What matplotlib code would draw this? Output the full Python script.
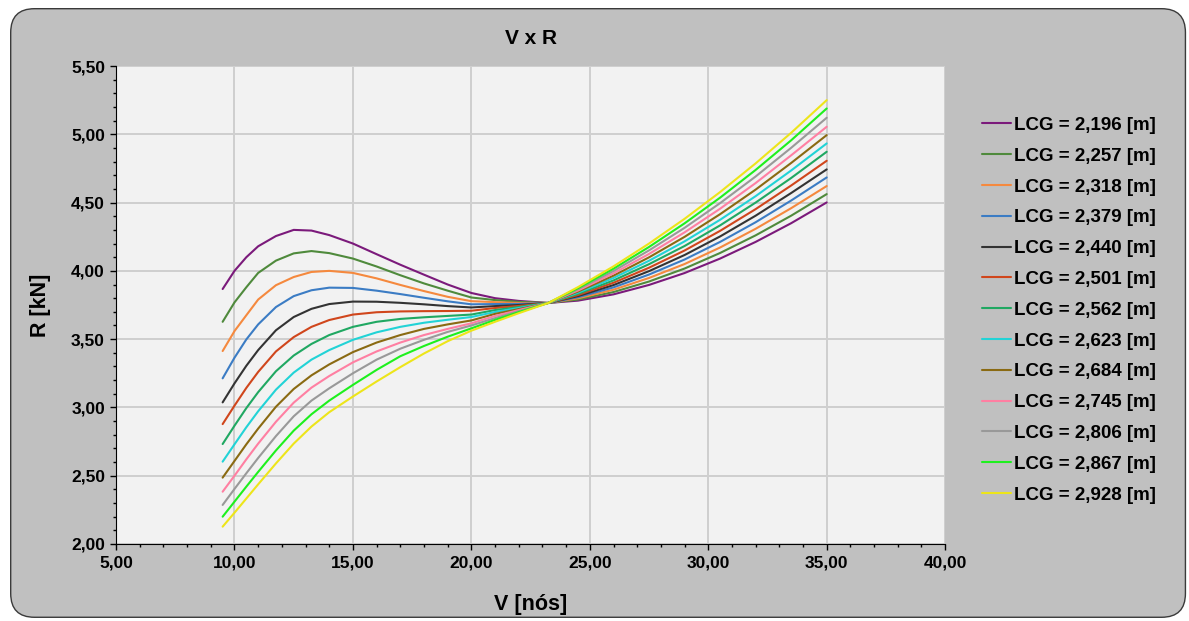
import matplotlib
matplotlib.use('Agg')
import matplotlib.pyplot as plt
from matplotlib.patches import FancyBboxPatch
from matplotlib.ticker import MultipleLocator, FuncFormatter

plt.rcParams['font.family'] = ['Liberation Sans', 'DejaVu Sans']
plt.rcParams['font.weight'] = 'bold'

# Velocidades (nós) onde as curvas foram lidas
v = [9.5, 10, 10.5, 11, 11.75, 12.5, 13.25, 14, 15, 16, 17, 18, 19, 20, 21, 22, 23.25,
     24.5, 26, 27.5, 29, 30.5, 32, 33.5, 35]

lcg_labels = ['LCG = 2,196 [m]', 'LCG = 2,257 [m]', 'LCG = 2,318 [m]', 'LCG = 2,379 [m]',
              'LCG = 2,440 [m]', 'LCG = 2,501 [m]', 'LCG = 2,562 [m]', 'LCG = 2,623 [m]',
              'LCG = 2,684 [m]', 'LCG = 2,745 [m]', 'LCG = 2,806 [m]', 'LCG = 2,867 [m]',
              'LCG = 2,928 [m]']

cores = ['#7b1a7b', '#4f8a3c', '#f5893e', '#3b7cc4', '#333333', '#d0461c', '#20a862',
         '#22d3d6', '#8a6a12', '#ff7fa2', '#999999', '#1ef01e', '#ede51a']

# Resistência R [kN] para cada LCG
r_2196 = [3.867, 4.000, 4.100, 4.180, 4.255, 4.300, 4.295, 4.262, 4.200, 4.122, 4.045, 3.972, 3.900,
          3.838, 3.800, 3.780, 3.765, 3.782, 3.828, 3.897, 3.984, 4.090, 4.212, 4.349, 4.501]
r_2257 = [3.627, 3.769, 3.880, 3.985, 4.075, 4.128, 4.145, 4.130, 4.090, 4.032, 3.968, 3.908, 3.855,
          3.805, 3.786, 3.773, 3.765, 3.790, 3.845, 3.922, 4.017, 4.131, 4.260, 4.404, 4.562]
r_2318 = [3.413, 3.559, 3.675, 3.790, 3.895, 3.955, 3.992, 4.000, 3.985, 3.945, 3.897, 3.852, 3.810,
          3.778, 3.771, 3.765, 3.765, 3.799, 3.862, 3.948, 4.050, 4.171, 4.308, 4.459, 4.621]
r_2379 = [3.213, 3.364, 3.498, 3.608, 3.735, 3.815, 3.858, 3.877, 3.875, 3.855, 3.830, 3.803, 3.777,
          3.755, 3.757, 3.758, 3.765, 3.807, 3.879, 3.973, 4.083, 4.212, 4.356, 4.515, 4.684]
r_2440 = [3.037, 3.176, 3.305, 3.420, 3.565, 3.662, 3.722, 3.757, 3.775, 3.774, 3.766, 3.755, 3.742,
          3.732, 3.742, 3.750, 3.765, 3.815, 3.896, 3.998, 4.116, 4.252, 4.404, 4.570, 4.743]
r_2501 = [2.878, 3.013, 3.143, 3.260, 3.410, 3.515, 3.590, 3.640, 3.680, 3.697, 3.703, 3.705, 3.706,
          3.708, 3.728, 3.743, 3.765, 3.823, 3.913, 4.023, 4.149, 4.293, 4.452, 4.625, 4.806]
r_2562 = [2.732, 2.866, 2.995, 3.112, 3.265, 3.380, 3.465, 3.530, 3.590, 3.627, 3.648, 3.660, 3.670,
          3.680, 3.713, 3.735, 3.765, 3.832, 3.930, 4.049, 4.182, 4.333, 4.500, 4.680, 4.872]
r_2623 = [2.603, 2.730, 2.855, 2.972, 3.130, 3.255, 3.350, 3.420, 3.495, 3.550, 3.590, 3.620, 3.642,
          3.662, 3.699, 3.728, 3.765, 3.840, 3.948, 4.074, 4.216, 4.374, 4.547, 4.735, 4.933]
r_2684 = [2.486, 2.608, 2.730, 2.845, 3.005, 3.135, 3.235, 3.315, 3.405, 3.475, 3.530, 3.575, 3.608,
          3.637, 3.685, 3.720, 3.765, 3.848, 3.965, 4.099, 4.249, 4.415, 4.595, 4.790, 4.994]
r_2745 = [2.383, 2.500, 2.620, 2.735, 2.895, 3.035, 3.145, 3.230, 3.330, 3.410, 3.475, 3.530, 3.575,
          3.616, 3.670, 3.713, 3.765, 3.856, 3.982, 4.124, 4.282, 4.455, 4.643, 4.846, 5.055]
r_2806 = [2.286, 2.403, 2.518, 2.630, 2.790, 2.935, 3.050, 3.140, 3.250, 3.350, 3.430, 3.495, 3.553,
          3.600, 3.654, 3.705, 3.765, 3.865, 3.999, 4.150, 4.315, 4.496, 4.691, 4.901, 5.121]
r_2867 = [2.200, 2.310, 2.420, 2.528, 2.685, 2.830, 2.950, 3.050, 3.165, 3.275, 3.375, 3.450, 3.518,
          3.579, 3.641, 3.698, 3.765, 3.873, 4.016, 4.175, 4.348, 4.536, 4.739, 4.956, 5.189]
r_2928 = [2.127, 2.229, 2.333, 2.437, 2.590, 2.735, 2.860, 2.965, 3.080, 3.190, 3.295, 3.395, 3.485,
          3.562, 3.627, 3.690, 3.765, 3.881, 4.033, 4.200, 4.381, 4.577, 4.787, 5.011, 5.250]

series = [r_2196, r_2257, r_2318, r_2379, r_2440, r_2501, r_2562, r_2623,
          r_2684, r_2745, r_2806, r_2867, r_2928]


def virgula(x, pos):
    return f'{x:.2f}'.replace('.', ',')


fig = plt.figure(figsize=(11.89, 6.21), dpi=100, facecolor='white')

# Fundo cinza com cantos arredondados
fundo = FancyBboxPatch((0.009, 0.006), 0.988, 0.98, boxstyle='round,pad=0,rounding_size=0.02',
                       transform=fig.transFigure, facecolor='#c0c0c0', edgecolor='#3a3a3a',
                       linewidth=1.0, zorder=-10, mutation_aspect=1189 / 621)
fig.patches.append(fundo)

ax = fig.add_axes([0.0976, 0.124, 0.6973, 0.7697])
ax.set_facecolor('#f2f2f2')

for r, cor, lab in zip(series, cores, lcg_labels):
    ax.plot(v, r, color=cor, linewidth=1.5, label=lab, solid_capstyle='round',
            solid_joinstyle='round')

ax.set_xlim(5, 40)
ax.set_ylim(2, 5.5)
ax.xaxis.set_major_locator(MultipleLocator(5))
ax.xaxis.set_minor_locator(MultipleLocator(1))
ax.yaxis.set_major_locator(MultipleLocator(0.5))
ax.yaxis.set_minor_locator(MultipleLocator(0.1))
ax.xaxis.set_major_formatter(FuncFormatter(virgula))
ax.yaxis.set_major_formatter(FuncFormatter(virgula))
ax.grid(True, which='major', color='#cfcfcf', linewidth=1.4)
ax.set_axisbelow(True)

for s in ['top', 'right']:
    ax.spines[s].set_visible(False)
ax.spines['left'].set_color('black')
ax.spines['bottom'].set_color('black')
ax.tick_params(which='major', direction='out', length=4, width=1, labelsize=12.5, pad=4)
ax.tick_params(which='minor', direction='out', length=2.5, width=1)
for t in ax.get_xticklabels() + ax.get_yticklabels():
    t.set_fontweight('bold')

ax.set_title('V x R', fontsize=15, fontweight='bold', pad=16)
ax.set_xlabel('V [nós]', fontsize=15.5, fontweight='bold', labelpad=17)
ax.set_ylabel('R [kN]', fontsize=15.5, fontweight='bold', labelpad=14)

fig.legend(loc='upper left', bbox_to_anchor=(0.818, 0.827), frameon=False,
           prop={'size': 13.5, 'weight': 'bold'}, handlelength=1.55, handletextpad=0.16,
           labelspacing=0.73, borderpad=0)

fig.savefig('out.png', dpi=100, facecolor='white')
